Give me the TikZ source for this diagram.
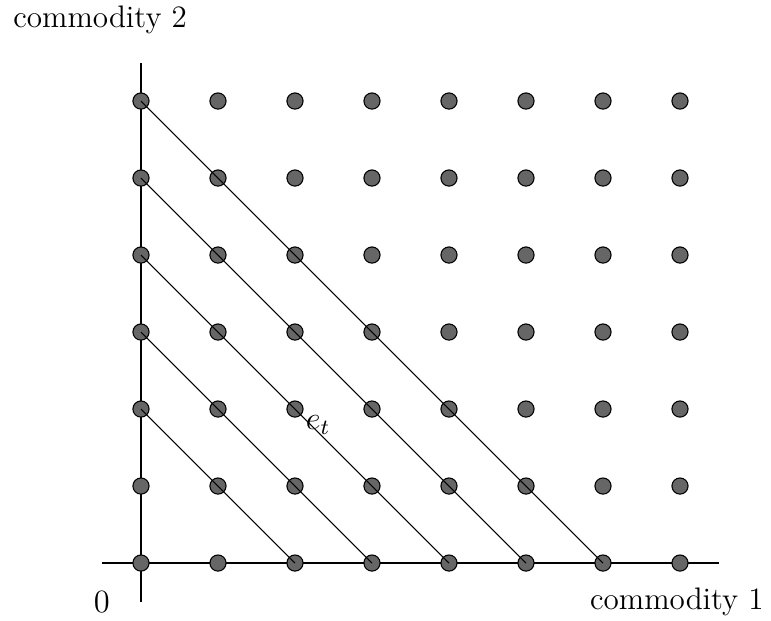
\documentclass[tikz,border=0pt]{standalone}
\usepackage{amsmath}
\usepackage{tikz}
\usetikzlibrary{positioning}

\begin{document}
\begin{tikzpicture}[every node/.style={font=\fontsize{11.5}{14}\selectfont},
    dot/.style={circle,draw,fill=black!60,inner sep=0pt,minimum size=0.21cm}]
    \useasboundingbox (-1.831,-0.740) rectangle (8.182,7.312);
    % axes
    \coordinate (xl) at (-0.5,0);
    \coordinate (xr) at (7.5,0);
    \coordinate (yb) at (0,-0.5);
    \coordinate (yt) at (0,6.5);
    \draw (xl) -- (xr);
    \draw (yb) -- (yt);
    % grid of bundles
    \foreach \i in {0,...,7}
      \foreach \j in {0,...,6}
        \node[dot] (p-\i-\j) at (\i,\j) {};
    % budget lines
    \foreach \k in {2,...,6}
      \draw (p-0-\k.center) -- (p-\k-0.center);
    \node (zero) at (-0.51,-0.51) {$0$};
    \node (c1) at (6.96,-0.51) {commodity 1};
    \node (c2) at (-0.53,7.05) {commodity 2};
    \node (et) at (2.3,1.79) {$e_t$};
  \end{tikzpicture}
\end{document}
